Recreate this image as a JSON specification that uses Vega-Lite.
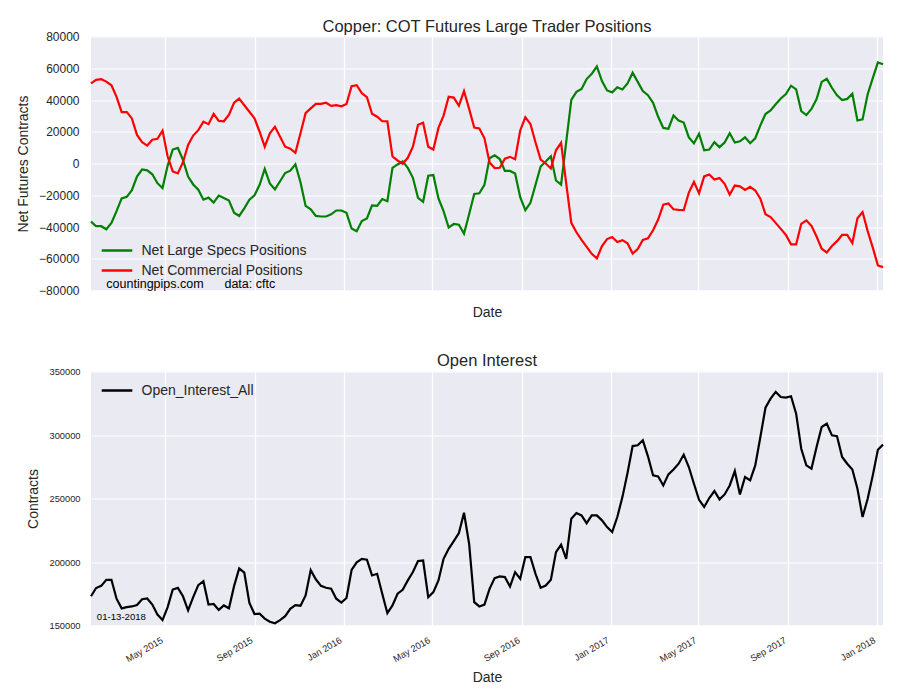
{
  "$schema": "https://vega.github.io/schema/vega-lite/v6.json",
  "padding": {"left": 15, "top": 18.5, "right": 10, "bottom": 5},
  "background": "white",
  "config": {
    "font": "Liberation Sans",
    "view": {"stroke": null, "fill": "#EAEAF2"},
    "axis": {"domain": false, "ticks": false, "gridColor": "white", "gridWidth": 1.2, "labelColor": "#262626", "titleColor": "#262626", "titleFontWeight": "normal", "labelFont": "Liberation Sans", "titleFont": "Liberation Sans", "labelOverlap": false, "labelFlush": false},
    "title": {"fontWeight": "normal", "color": "#262626", "fontSize": 16.5, "anchor": "middle", "frame": "group", "font": "Liberation Sans"},
    "legend": {"title": null, "labelFontSize": 14, "labelColor": "#262626", "labelFont": "Liberation Sans", "labelLimit": 400, "symbolType": "M-1.8,0H1.8", "symbolSize": 289, "symbolStrokeWidth": 2.5, "symbolFillColor": "transparent", "labelOffset": 14.5, "padding": 0, "rowPadding": 3}
  },
  "datasets": {
    "cot": [
      {"date":"2015-01-20","specs":-36600,"comm":50500,"oi":173000},
      {"date":"2015-01-27","specs":-39500,"comm":52700,"oi":179500},
      {"date":"2015-02-03","specs":-39500,"comm":53100,"oi":181200},
      {"date":"2015-02-10","specs":-41400,"comm":51600,"oi":186000},
      {"date":"2015-02-17","specs":-37500,"comm":49300,"oi":186000},
      {"date":"2015-02-24","specs":-30000,"comm":42000,"oi":171100},
      {"date":"2015-03-03","specs":-22000,"comm":32400,"oi":163500},
      {"date":"2015-03-10","specs":-21000,"comm":32400,"oi":164500},
      {"date":"2015-03-17","specs":-16800,"comm":28400,"oi":165000},
      {"date":"2015-03-24","specs":-8200,"comm":18000,"oi":166100},
      {"date":"2015-03-31","specs":-3800,"comm":13400,"oi":170700},
      {"date":"2015-04-07","specs":-4300,"comm":11300,"oi":171300},
      {"date":"2015-04-14","specs":-6800,"comm":15000,"oi":166500},
      {"date":"2015-04-21","specs":-12400,"comm":15600,"oi":158600},
      {"date":"2015-04-28","specs":-15500,"comm":20700,"oi":154300},
      {"date":"2015-05-05","specs":-1300,"comm":4400,"oi":164500},
      {"date":"2015-05-12","specs":8800,"comm":-5000,"oi":178300},
      {"date":"2015-05-19","specs":9800,"comm":-6200,"oi":179600},
      {"date":"2015-05-26","specs":2300,"comm":800,"oi":173000},
      {"date":"2015-06-02","specs":-8200,"comm":11700,"oi":161900},
      {"date":"2015-06-09","specs":-13200,"comm":17600,"oi":172400},
      {"date":"2015-06-16","specs":-16500,"comm":21000,"oi":181800},
      {"date":"2015-06-23","specs":-22800,"comm":26300,"oi":184900},
      {"date":"2015-06-30","specs":-21500,"comm":24800,"oi":166500},
      {"date":"2015-07-07","specs":-24600,"comm":31200,"oi":167000},
      {"date":"2015-07-14","specs":-20200,"comm":26800,"oi":162300},
      {"date":"2015-07-21","specs":-21800,"comm":26600,"oi":165800},
      {"date":"2015-07-28","specs":-23300,"comm":30700,"oi":163600},
      {"date":"2015-08-04","specs":-31000,"comm":38300,"oi":181000},
      {"date":"2015-08-11","specs":-33000,"comm":40900,"oi":195000},
      {"date":"2015-08-18","specs":-28300,"comm":36700,"oi":191600},
      {"date":"2015-08-25","specs":-22800,"comm":32600,"oi":167800},
      {"date":"2015-09-01","specs":-20000,"comm":28400,"oi":159000},
      {"date":"2015-09-08","specs":-13400,"comm":20000,"oi":159300},
      {"date":"2015-09-15","specs":-3400,"comm":10600,"oi":155400},
      {"date":"2015-09-22","specs":-12500,"comm":19000,"oi":153000},
      {"date":"2015-09-29","specs":-16300,"comm":23100,"oi":151800},
      {"date":"2015-10-06","specs":-11200,"comm":16900,"oi":154200},
      {"date":"2015-10-13","specs":-6000,"comm":10600,"oi":157300},
      {"date":"2015-10-20","specs":-4500,"comm":9300,"oi":163100},
      {"date":"2015-10-27","specs":-500,"comm":6700,"oi":166100},
      {"date":"2015-11-03","specs":-11800,"comm":19000,"oi":165600},
      {"date":"2015-11-10","specs":-26700,"comm":31700,"oi":173700},
      {"date":"2015-11-17","specs":-28800,"comm":34700,"oi":193600},
      {"date":"2015-11-24","specs":-33000,"comm":37600,"oi":186400},
      {"date":"2015-12-01","specs":-33400,"comm":37600,"oi":181200},
      {"date":"2015-12-08","specs":-33400,"comm":38300,"oi":179700},
      {"date":"2015-12-15","specs":-32000,"comm":36300,"oi":179000},
      {"date":"2015-12-22","specs":-29600,"comm":36700,"oi":171100},
      {"date":"2015-12-29","specs":-29600,"comm":36000,"oi":168000},
      {"date":"2016-01-05","specs":-31100,"comm":37500,"oi":171700},
      {"date":"2016-01-12","specs":-41000,"comm":48700,"oi":193700},
      {"date":"2016-01-19","specs":-42700,"comm":49300,"oi":199700},
      {"date":"2016-01-26","specs":-36300,"comm":44300,"oi":202500},
      {"date":"2016-02-02","specs":-34600,"comm":41800,"oi":201800},
      {"date":"2016-02-09","specs":-26400,"comm":31300,"oi":189400},
      {"date":"2016-02-16","specs":-26700,"comm":29500,"oi":190700},
      {"date":"2016-02-23","specs":-22400,"comm":26600,"oi":175000},
      {"date":"2016-03-01","specs":-23800,"comm":26600,"oi":159700},
      {"date":"2016-03-08","specs":-2700,"comm":4400,"oi":165800},
      {"date":"2016-03-15","specs":-600,"comm":1900,"oi":175000},
      {"date":"2016-03-22","specs":1300,"comm":-200,"oi":178100},
      {"date":"2016-03-29","specs":-2800,"comm":3600,"oi":185500},
      {"date":"2016-04-05","specs":-9000,"comm":10600,"oi":192100},
      {"date":"2016-04-12","specs":-21600,"comm":24400,"oi":200700},
      {"date":"2016-04-19","specs":-24100,"comm":25700,"oi":201200},
      {"date":"2016-04-26","specs":-7700,"comm":10600,"oi":172300},
      {"date":"2016-05-03","specs":-7300,"comm":8800,"oi":176300},
      {"date":"2016-05-10","specs":-22000,"comm":22400,"oi":185500},
      {"date":"2016-05-17","specs":-30000,"comm":30200,"oi":202500},
      {"date":"2016-05-24","specs":-40300,"comm":42000,"oi":210400},
      {"date":"2016-05-31","specs":-38100,"comm":41500,"oi":216500},
      {"date":"2016-06-07","specs":-38600,"comm":36400,"oi":222800},
      {"date":"2016-06-14","specs":-44200,"comm":45600,"oi":238800},
      {"date":"2016-06-21","specs":-32000,"comm":34400,"oi":214400},
      {"date":"2016-06-28","specs":-19200,"comm":22600,"oi":168400},
      {"date":"2016-07-05","specs":-18800,"comm":22100,"oi":165000},
      {"date":"2016-07-12","specs":-13500,"comm":15900,"oi":166500},
      {"date":"2016-07-19","specs":3300,"comm":700,"oi":178900},
      {"date":"2016-07-26","specs":5200,"comm":-2900,"oi":187300},
      {"date":"2016-08-02","specs":2800,"comm":-2700,"oi":188600},
      {"date":"2016-08-09","specs":-4700,"comm":3000,"oi":188100},
      {"date":"2016-08-16","specs":-4700,"comm":4200,"oi":180700},
      {"date":"2016-08-23","specs":-6300,"comm":2700,"oi":192000},
      {"date":"2016-08-30","specs":-21200,"comm":20700,"oi":186800},
      {"date":"2016-09-06","specs":-29400,"comm":29200,"oi":203900},
      {"date":"2016-09-13","specs":-24800,"comm":24900,"oi":203900},
      {"date":"2016-09-20","specs":-13400,"comm":13200,"oi":190700},
      {"date":"2016-09-27","specs":-1900,"comm":2500,"oi":179700},
      {"date":"2016-10-04","specs":1200,"comm":0,"oi":181500},
      {"date":"2016-10-11","specs":4600,"comm":-3100,"oi":186000},
      {"date":"2016-10-18","specs":-10700,"comm":8300,"oi":207800},
      {"date":"2016-10-25","specs":-13300,"comm":13000,"oi":213600},
      {"date":"2016-11-01","specs":13500,"comm":-12500,"oi":202500},
      {"date":"2016-11-08","specs":40100,"comm":-37400,"oi":234100},
      {"date":"2016-11-15","specs":45100,"comm":-43300,"oi":238500},
      {"date":"2016-11-22","specs":46900,"comm":-48100,"oi":236700},
      {"date":"2016-11-29","specs":53200,"comm":-52500,"oi":230600},
      {"date":"2016-12-06","specs":56500,"comm":-56900,"oi":236700},
      {"date":"2016-12-13","specs":61100,"comm":-59800,"oi":236700},
      {"date":"2016-12-20","specs":51900,"comm":-52000,"oi":232800},
      {"date":"2016-12-27","specs":46000,"comm":-47600,"oi":227500},
      {"date":"2017-01-03","specs":44800,"comm":-46300,"oi":223600},
      {"date":"2017-01-10","specs":48000,"comm":-49400,"oi":235400},
      {"date":"2017-01-17","specs":46600,"comm":-48300,"oi":251100},
      {"date":"2017-01-24","specs":50400,"comm":-50300,"oi":270100},
      {"date":"2017-01-31","specs":57200,"comm":-56700,"oi":291300},
      {"date":"2017-02-07","specs":51400,"comm":-53900,"oi":291900},
      {"date":"2017-02-14","specs":45600,"comm":-48100,"oi":295800},
      {"date":"2017-02-21","specs":43000,"comm":-47100,"oi":283200},
      {"date":"2017-02-28","specs":38200,"comm":-42100,"oi":268200},
      {"date":"2017-03-07","specs":29400,"comm":-35300,"oi":267400},
      {"date":"2017-03-14","specs":22400,"comm":-25900,"oi":260300},
      {"date":"2017-03-21","specs":21900,"comm":-25200,"oi":269000},
      {"date":"2017-03-28","specs":30200,"comm":-28800,"oi":272900},
      {"date":"2017-04-04","specs":27000,"comm":-29200,"oi":277400},
      {"date":"2017-04-11","specs":25800,"comm":-29300,"oi":284500},
      {"date":"2017-04-18","specs":16400,"comm":-18300,"oi":274800},
      {"date":"2017-04-25","specs":12700,"comm":-11600,"oi":261600},
      {"date":"2017-05-02","specs":18700,"comm":-18800,"oi":249000},
      {"date":"2017-05-09","specs":8300,"comm":-8100,"oi":243300},
      {"date":"2017-05-16","specs":8800,"comm":-6900,"oi":250400},
      {"date":"2017-05-23","specs":13400,"comm":-10100,"oi":255900},
      {"date":"2017-05-30","specs":10300,"comm":-9200,"oi":249300},
      {"date":"2017-06-06","specs":13200,"comm":-12800,"oi":253200},
      {"date":"2017-06-13","specs":19000,"comm":-19600,"oi":260300},
      {"date":"2017-06-20","specs":13200,"comm":-13900,"oi":271600},
      {"date":"2017-06-27","specs":14000,"comm":-14400,"oi":253200},
      {"date":"2017-07-04","specs":16500,"comm":-16700,"oi":266900},
      {"date":"2017-07-11","specs":12800,"comm":-14700,"oi":264300},
      {"date":"2017-07-18","specs":15900,"comm":-17000,"oi":276100},
      {"date":"2017-07-25","specs":24000,"comm":-22200,"oi":298400},
      {"date":"2017-08-01","specs":31200,"comm":-31900,"oi":321500},
      {"date":"2017-08-08","specs":33400,"comm":-33700,"oi":328600},
      {"date":"2017-08-15","specs":37300,"comm":-37400,"oi":333900},
      {"date":"2017-08-22","specs":41000,"comm":-41200,"oi":329900},
      {"date":"2017-08-29","specs":43800,"comm":-45000,"oi":329400},
      {"date":"2017-09-05","specs":49000,"comm":-50900,"oi":330500},
      {"date":"2017-09-12","specs":46700,"comm":-51000,"oi":316800},
      {"date":"2017-09-19","specs":33000,"comm":-38000,"oi":289200},
      {"date":"2017-09-26","specs":30500,"comm":-35800,"oi":276100},
      {"date":"2017-10-03","specs":34400,"comm":-39300,"oi":273500},
      {"date":"2017-10-10","specs":40600,"comm":-46000,"oi":290600},
      {"date":"2017-10-17","specs":51400,"comm":-53700,"oi":306300},
      {"date":"2017-10-24","specs":53300,"comm":-56000,"oi":308900},
      {"date":"2017-10-31","specs":47700,"comm":-52000,"oi":299700},
      {"date":"2017-11-07","specs":42900,"comm":-48900,"oi":299000},
      {"date":"2017-11-14","specs":39900,"comm":-45000,"oi":282700},
      {"date":"2017-11-21","specs":40700,"comm":-45000,"oi":277400},
      {"date":"2017-11-28","specs":43900,"comm":-50100,"oi":272900},
      {"date":"2017-12-05","specs":27100,"comm":-34500,"oi":257700},
      {"date":"2017-12-12","specs":27800,"comm":-30600,"oi":235400},
      {"date":"2017-12-19","specs":43600,"comm":-42600,"oi":249800},
      {"date":"2017-12-26","specs":53800,"comm":-53000,"oi":268200},
      {"date":"2018-01-02","specs":63700,"comm":-64200,"oi":288400},
      {"date":"2018-01-09","specs":62500,"comm":-65300,"oi":292400}
    ]
  },
  "bounds": "flush",
  "spacing": 81,
  "resolve": {"scale": {"x": "independent", "y": "independent", "color": "independent"}, "legend": {"color": "independent"}},
  "vconcat": [
    {
      "width": 792,
      "height": 254,
      "title": {"text": "Copper: COT Futures Large Trader Positions", "offset": -4.5},
      "layer": [
        {
          "data": {"name": "cot"},
          "transform": [{"fold": ["specs", "comm"], "as": ["series", "value"]}],
          "mark": {"type": "line", "strokeWidth": 2.2},
          "encoding": {
            "x": {
              "field": "date", "type": "temporal",
              "scale": {"type": "utc", "nice": false},
              "axis": {
                "labels": false,
                "values": [
                  {"year": 2015, "month": 5, "date": 1, "utc": true},
                  {"year": 2015, "month": 9, "date": 1, "utc": true},
                  {"year": 2016, "month": 1, "date": 1, "utc": true},
                  {"year": 2016, "month": 5, "date": 1, "utc": true},
                  {"year": 2016, "month": 9, "date": 1, "utc": true},
                  {"year": 2017, "month": 1, "date": 1, "utc": true},
                  {"year": 2017, "month": 5, "date": 1, "utc": true},
                  {"year": 2017, "month": 9, "date": 1, "utc": true},
                  {"year": 2018, "month": 1, "date": 1, "utc": true}
                ],
                "title": "Date", "titleFontSize": 14, "titleY": 22, "titleBaseline": "middle"
              }
            },
            "y": {
              "field": "value", "type": "quantitative",
              "scale": {"domain": [-80000, 80000], "nice": false},
              "axis": {
                "values": [-80000, -60000, -40000, -20000, 0, 20000, 40000, 60000, 80000],
                "labelOverlap": false,
                "format": "d", "labelFontSize": 12, "labelPadding": 12,
                "title": "Net Futures Contracts", "titleFontSize": 14, "titleX": -68, "titleBaseline": "middle"
              }
            },
            "color": {
              "field": "series", "type": "nominal",
              "scale": {"domain": ["specs", "comm"], "range": ["#008000", "#FF0000"]},
              "legend": {
                "orient": "none", "legendX": 16, "legendY": 204,
                "labelExpr": "datum.label == 'specs' ? 'Net Large Specs Positions' : 'Net Commercial Positions'"
              }
            }
          }
        },
        {
          "data": {"values": [{"label": "countingpips.com\u00a0\u00a0\u00a0\u00a0\u00a0\u00a0data: cftc"}]},
          "mark": {"type": "text", "align": "left", "baseline": "middle", "fontSize": 12.5, "color": "black", "font": "Liberation Sans"},
          "encoding": {
            "x": {
              "datum": {"year": 2015, "month": 2, "date": 10, "utc": true}, "type": "temporal",
              "axis": {
                "labels": false,
                "values": [
                  {"year": 2015, "month": 5, "date": 1, "utc": true},
                  {"year": 2015, "month": 9, "date": 1, "utc": true},
                  {"year": 2016, "month": 1, "date": 1, "utc": true},
                  {"year": 2016, "month": 5, "date": 1, "utc": true},
                  {"year": 2016, "month": 9, "date": 1, "utc": true},
                  {"year": 2017, "month": 1, "date": 1, "utc": true},
                  {"year": 2017, "month": 5, "date": 1, "utc": true},
                  {"year": 2017, "month": 9, "date": 1, "utc": true},
                  {"year": 2018, "month": 1, "date": 1, "utc": true}
                ],
                "title": "Date", "titleFontSize": 14, "titleY": 22, "titleBaseline": "middle"
              }
            },
            "y": {
              "datum": -75600, "type": "quantitative",
              "axis": {
                "values": [-80000, -60000, -40000, -20000, 0, 20000, 40000, 60000, 80000],
                "labelOverlap": false,
                "format": "d", "labelFontSize": 12, "labelPadding": 12,
                "title": "Net Futures Contracts", "titleFontSize": 14, "titleX": -68, "titleBaseline": "middle"
              }
            },
            "text": {"field": "label"}
          }
        }
      ]
    },
    {
      "width": 792,
      "height": 254,
      "title": {"text": "Open Interest", "offset": -2},
      "layer": [
        {
          "data": {"name": "cot"},
          "mark": {"type": "line", "strokeWidth": 2.2},
          "encoding": {
            "x": {
              "field": "date", "type": "temporal",
              "scale": {"type": "utc", "nice": false},
              "axis": {
                "values": [
                  {"year": 2015, "month": 5, "date": 1, "utc": true},
                  {"year": 2015, "month": 9, "date": 1, "utc": true},
                  {"year": 2016, "month": 1, "date": 1, "utc": true},
                  {"year": 2016, "month": 5, "date": 1, "utc": true},
                  {"year": 2016, "month": 9, "date": 1, "utc": true},
                  {"year": 2017, "month": 1, "date": 1, "utc": true},
                  {"year": 2017, "month": 5, "date": 1, "utc": true},
                  {"year": 2017, "month": 9, "date": 1, "utc": true},
                  {"year": 2018, "month": 1, "date": 1, "utc": true}
                ],
                "format": "%b %Y", "labelFontSize": 9.3, "labelAngle": -30, "labelAlign": "right", "labelBaseline": "top", "labelPadding": 10, "labelOffset": -5,
                "title": "Date", "titleFontSize": 14, "titleY": 52, "titleBaseline": "middle"
              }
            },
            "y": {
              "field": "oi", "type": "quantitative",
              "scale": {"domain": [150000, 350000], "nice": false},
              "axis": {
                "values": [150000, 200000, 250000, 300000, 350000],
                "labelOverlap": false,
                "format": "d", "labelFontSize": 9.3, "labelPadding": 11,
                "title": "Contracts", "titleFontSize": 14, "titleX": -58, "titleBaseline": "middle"
              }
            },
            "color": {
              "datum": "Open_Interest_All",
              "scale": {"range": ["black"]},
              "legend": {"orient": "none", "legendX": 16, "legendY": 9}
            }
          }
        },
        {
          "data": {"values": [{"label": "01-13-2018"}]},
          "mark": {"type": "text", "align": "left", "baseline": "middle", "fontSize": 9.6, "color": "black", "font": "Liberation Sans"},
          "encoding": {
            "x": {
              "datum": {"year": 2015, "month": 1, "date": 28, "utc": true}, "type": "temporal",
              "axis": {
                "values": [
                  {"year": 2015, "month": 5, "date": 1, "utc": true},
                  {"year": 2015, "month": 9, "date": 1, "utc": true},
                  {"year": 2016, "month": 1, "date": 1, "utc": true},
                  {"year": 2016, "month": 5, "date": 1, "utc": true},
                  {"year": 2016, "month": 9, "date": 1, "utc": true},
                  {"year": 2017, "month": 1, "date": 1, "utc": true},
                  {"year": 2017, "month": 5, "date": 1, "utc": true},
                  {"year": 2017, "month": 9, "date": 1, "utc": true},
                  {"year": 2018, "month": 1, "date": 1, "utc": true}
                ],
                "format": "%b %Y", "labelFontSize": 9.3, "labelAngle": -30, "labelAlign": "right", "labelBaseline": "top", "labelPadding": 10, "labelOffset": -5,
                "title": "Date", "titleFontSize": 14, "titleY": 52, "titleBaseline": "middle"
              }
            },
            "y": {
              "datum": 156300, "type": "quantitative",
              "axis": {
                "values": [150000, 200000, 250000, 300000, 350000],
                "labelOverlap": false,
                "format": "d", "labelFontSize": 9.3, "labelPadding": 11,
                "title": "Contracts", "titleFontSize": 14, "titleX": -58, "titleBaseline": "middle"
              }
            },
            "text": {"field": "label"}
          }
        }
      ]
    }
  ]
}
